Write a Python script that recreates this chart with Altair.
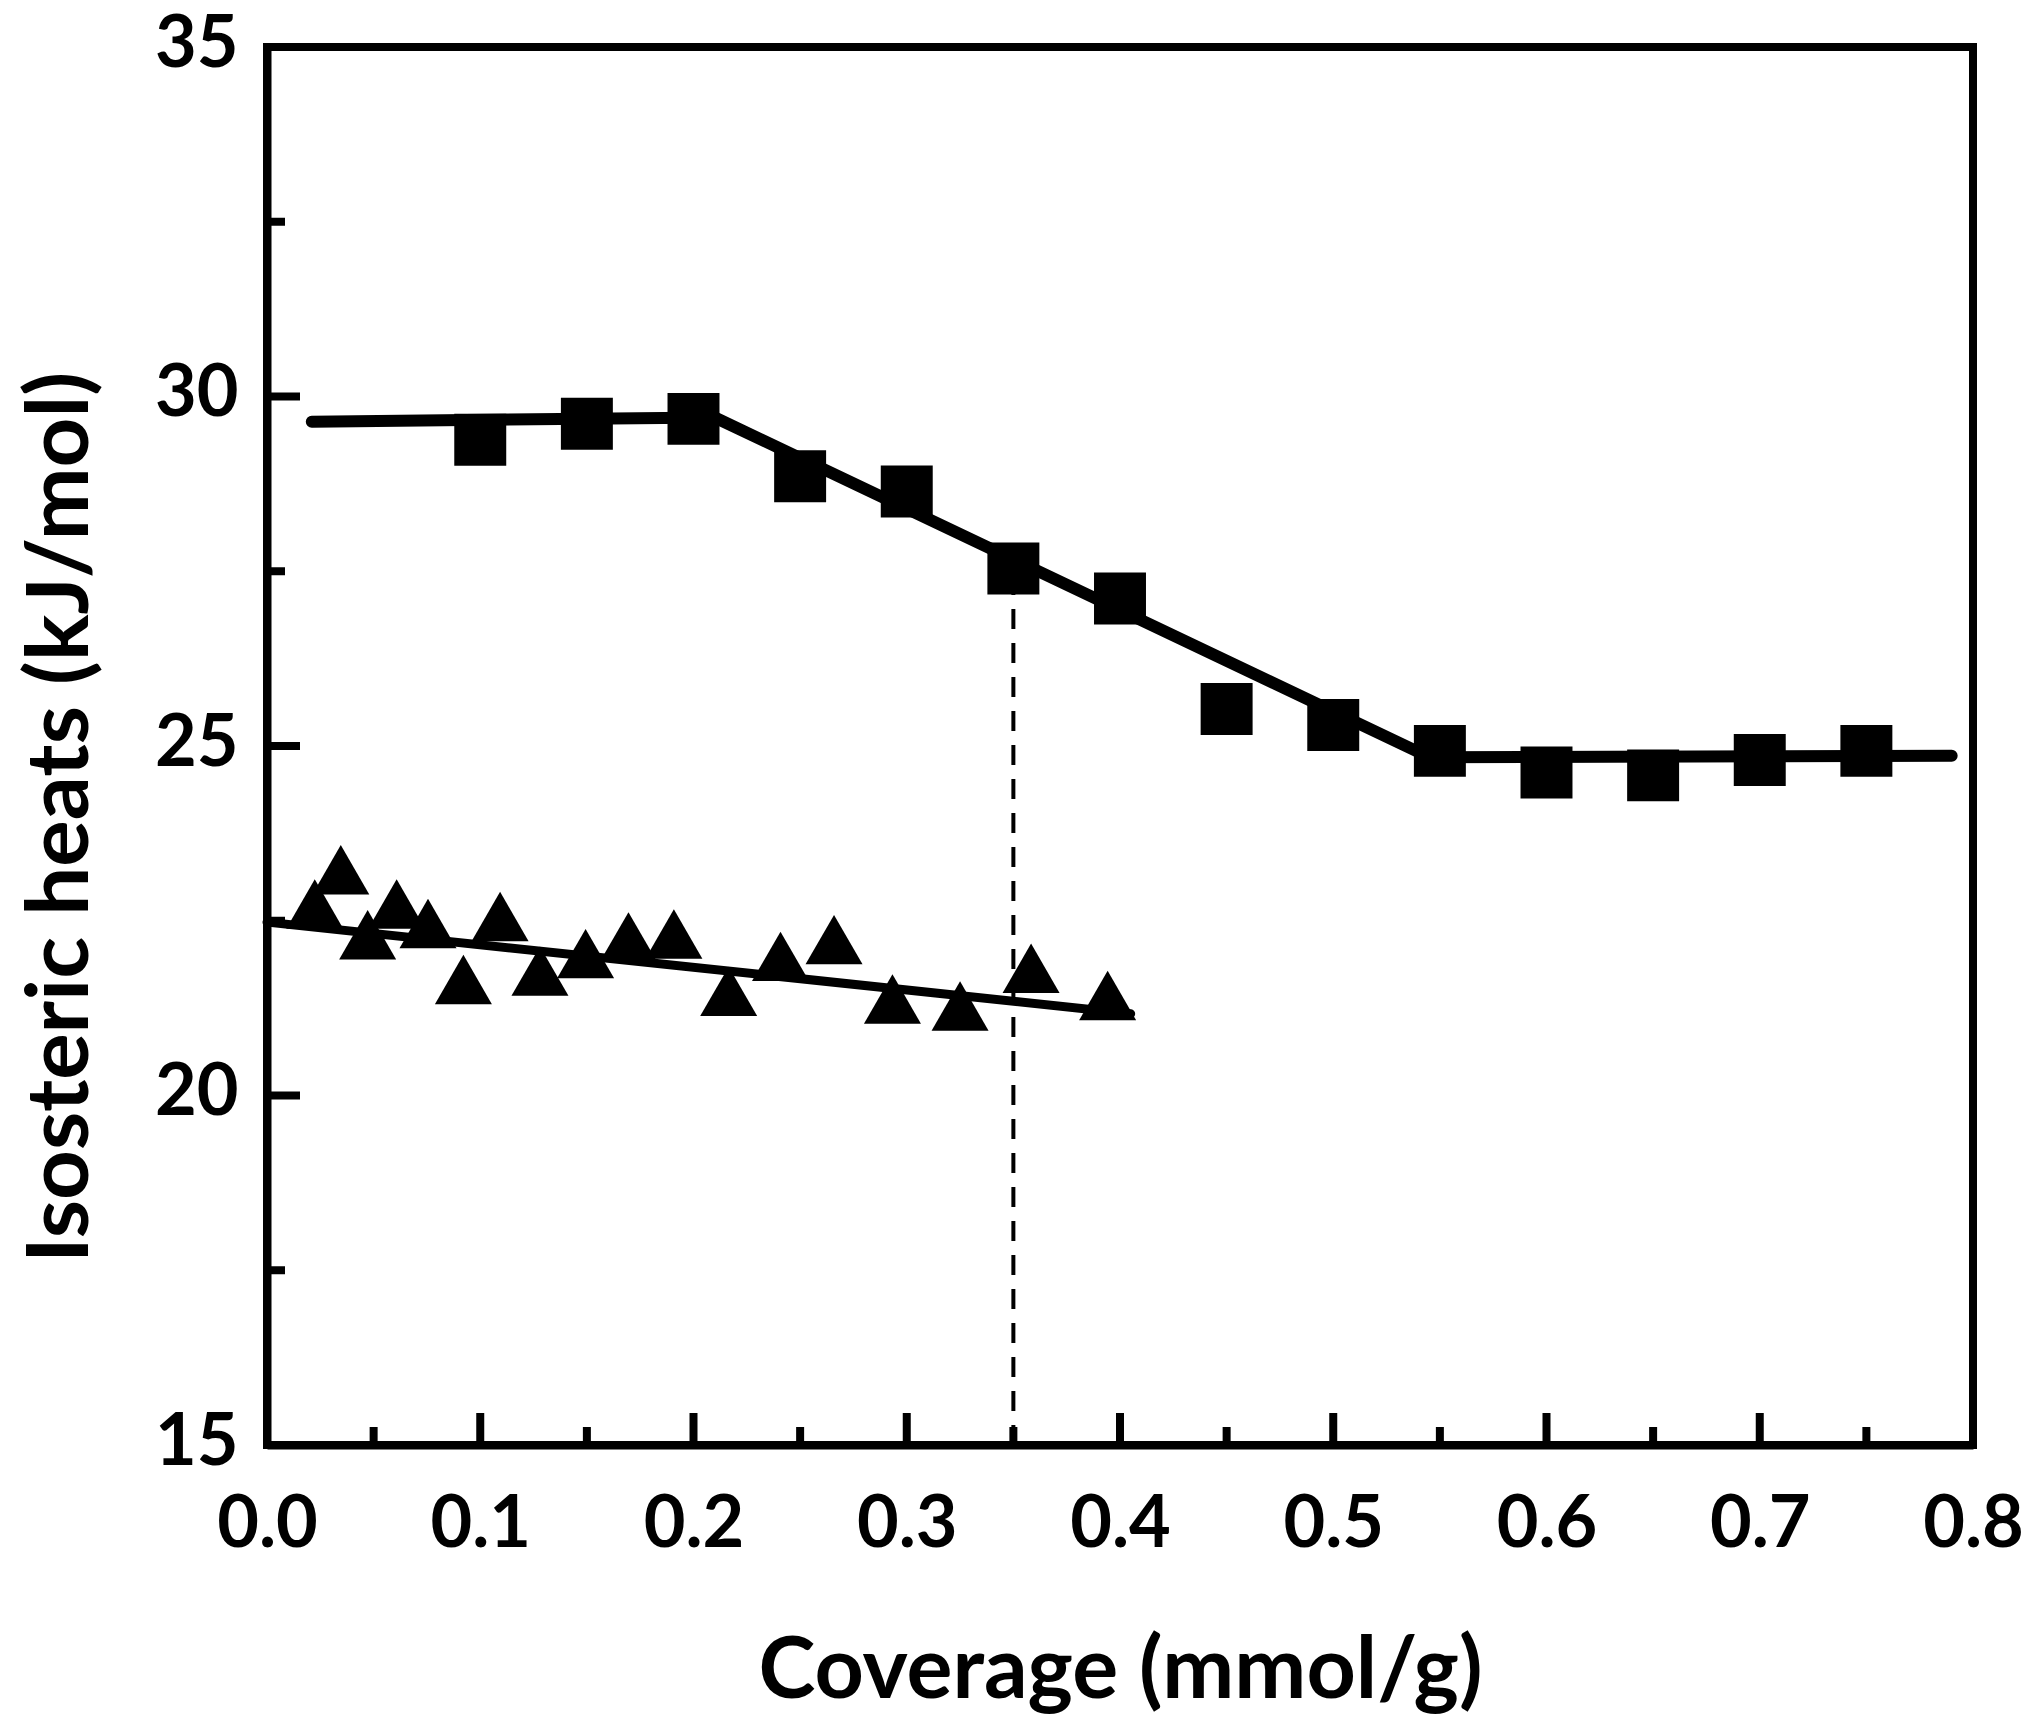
import altair as alt
import pandas as pd

# ---- data ----
sq_x = [0.10, 0.15, 0.20, 0.25, 0.30, 0.35, 0.40, 0.45, 0.50, 0.55, 0.60, 0.65, 0.70, 0.75]
sq_y = [29.38, 29.61, 29.68, 28.86, 28.64, 27.54, 27.11, 25.53, 25.30, 24.93, 24.62, 24.58, 24.80, 24.93]

tri_x = [0.0224, 0.0346, 0.0472, 0.0608, 0.0755, 0.0921, 0.1093, 0.128, 0.1494,
         0.1695, 0.1908, 0.2165, 0.2408, 0.2659, 0.2933, 0.325, 0.3583, 0.3942]
tri_y = [22.74, 23.23, 22.30, 22.74, 22.46, 21.66, 22.56, 21.78, 22.03,
         22.27, 22.31, 21.49, 21.99, 22.23, 21.38, 21.28, 21.82, 21.43]

sq_fit_x = [0.021, 0.21, 0.545, 0.79]
sq_fit_y = [29.64, 29.70, 24.84, 24.86]

tri_fit_x = [0.0, 0.405]
tri_fit_y = [22.48, 21.17]

guide_x = [0.35, 0.35]
guide_y = [15.0, 27.3]

x_label_values = [0.0, 0.1, 0.2, 0.3, 0.4, 0.5, 0.6, 0.7, 0.8]
y_label_values = [15, 20, 25, 30, 35]
x_major_ticks = [0.1, 0.2, 0.3, 0.4, 0.5, 0.6, 0.7]
x_minor_ticks = [0.05, 0.15, 0.25, 0.35, 0.45, 0.55, 0.65, 0.75]
y_major_ticks = [20, 25, 30]
y_minor_ticks = [17.5, 22.5, 27.5, 32.5]

x_title = "Coverage (mmol/g)"
y_title = "Isosteric heats (kJ/mol)"

# ---- layout ----
W, H = 1706, 1398
FONT = "Lato"

xs = alt.Scale(domain=[0, 0.8], nice=False, zero=False)
ys = alt.Scale(domain=[15, 35], nice=False, zero=False)

x_axis = alt.Axis(
    values=x_label_values, format=".1f", ticks=False, tickSize=0, grid=False,
    domainColor="black", domainWidth=8, labelFlush=False, labelOverlap=False,
    labelFont=FONT, labelFontWeight="bold", labelFontSize=72, labelColor="black",
    labelPadding=44, title=x_title, titleFont=FONT, titleFontWeight="bold",
    titleFontSize=86, titleColor="black", titleX=853, titleY=252,
    titleAlign="center", titleBaseline="alphabetic",
)
y_axis = alt.Axis(
    values=y_label_values, format="d", ticks=False, tickSize=0, grid=False,
    domainColor="black", domainWidth=8, labelFlush=False, labelOverlap=False,
    labelFont=FONT, labelFontWeight="bold", labelFontSize=72, labelColor="black",
    labelPadding=29, labelOffset=-3, title=y_title, titleFont=FONT,
    titleFontWeight="bold", titleFontSize=87, titleColor="black",
    titleX=-180, titleY=770, titleAngle=270, titleAlign="center",
    titleBaseline="alphabetic",
)

sq_df = pd.DataFrame({"x": sq_x, "y": sq_y})
tri_df = pd.DataFrame({"x": tri_x, "y": tri_y})
sq_fit_df = pd.DataFrame({"x": sq_fit_x, "y": sq_fit_y})
tri_fit_df = pd.DataFrame({"x": tri_fit_x, "y": tri_fit_y})
guide_df = pd.DataFrame({"x": guide_x, "y": guide_y})

X = alt.X("x:Q", scale=xs, axis=x_axis)
Y = alt.Y("y:Q", scale=ys, axis=y_axis)

squares = alt.Chart(sq_df).mark_point(
    shape="square", filled=True, size=2700, color="black", opacity=1
).encode(x=X, y=Y)

triangles = alt.Chart(tri_df).mark_point(
    shape="triangle-up", filled=True, size=3250, color="black", opacity=1
).encode(x=X, y=Y)

sq_line = alt.Chart(sq_fit_df).mark_line(
    color="black", strokeWidth=12, strokeCap="round", strokeJoin="round"
).encode(x=X, y=Y)

tri_line = alt.Chart(tri_fit_df).mark_line(
    color="black", strokeWidth=9, strokeCap="round"
).encode(x=X, y=Y)

guide = alt.Chart(guide_df).mark_line(
    color="black", strokeWidth=4, strokeDash=[20, 14]
).encode(x=X, y=Y)

x_major = alt.Chart(pd.DataFrame({"x": x_major_ticks})).mark_rule(
    color="black", strokeWidth=8
).encode(x=X, y=alt.value(H), y2=alt.value(H - 32))
x_minor = alt.Chart(pd.DataFrame({"x": x_minor_ticks})).mark_rule(
    color="black", strokeWidth=8
).encode(x=X, y=alt.value(H), y2=alt.value(H - 18))
y_major = alt.Chart(pd.DataFrame({"y": y_major_ticks})).mark_rule(
    color="black", strokeWidth=8
).encode(y=Y, x=alt.value(0), x2=alt.value(33))
y_minor = alt.Chart(pd.DataFrame({"y": y_minor_ticks})).mark_rule(
    color="black", strokeWidth=8
).encode(y=Y, x=alt.value(0), x2=alt.value(18))

chart = alt.layer(
    guide, x_major, x_minor, y_major, y_minor, tri_line, sq_line, triangles, squares
).properties(
    width=W, height=H,
    padding={"left": 259, "top": 39, "right": 50, "bottom": 278},
    autosize=alt.AutoSizeParams(type="none"),
    background="white",
).configure_view(
    stroke="black", strokeWidth=8
)

chart.save("out.html", embed_options={"renderer": "svg", "actions": False})
